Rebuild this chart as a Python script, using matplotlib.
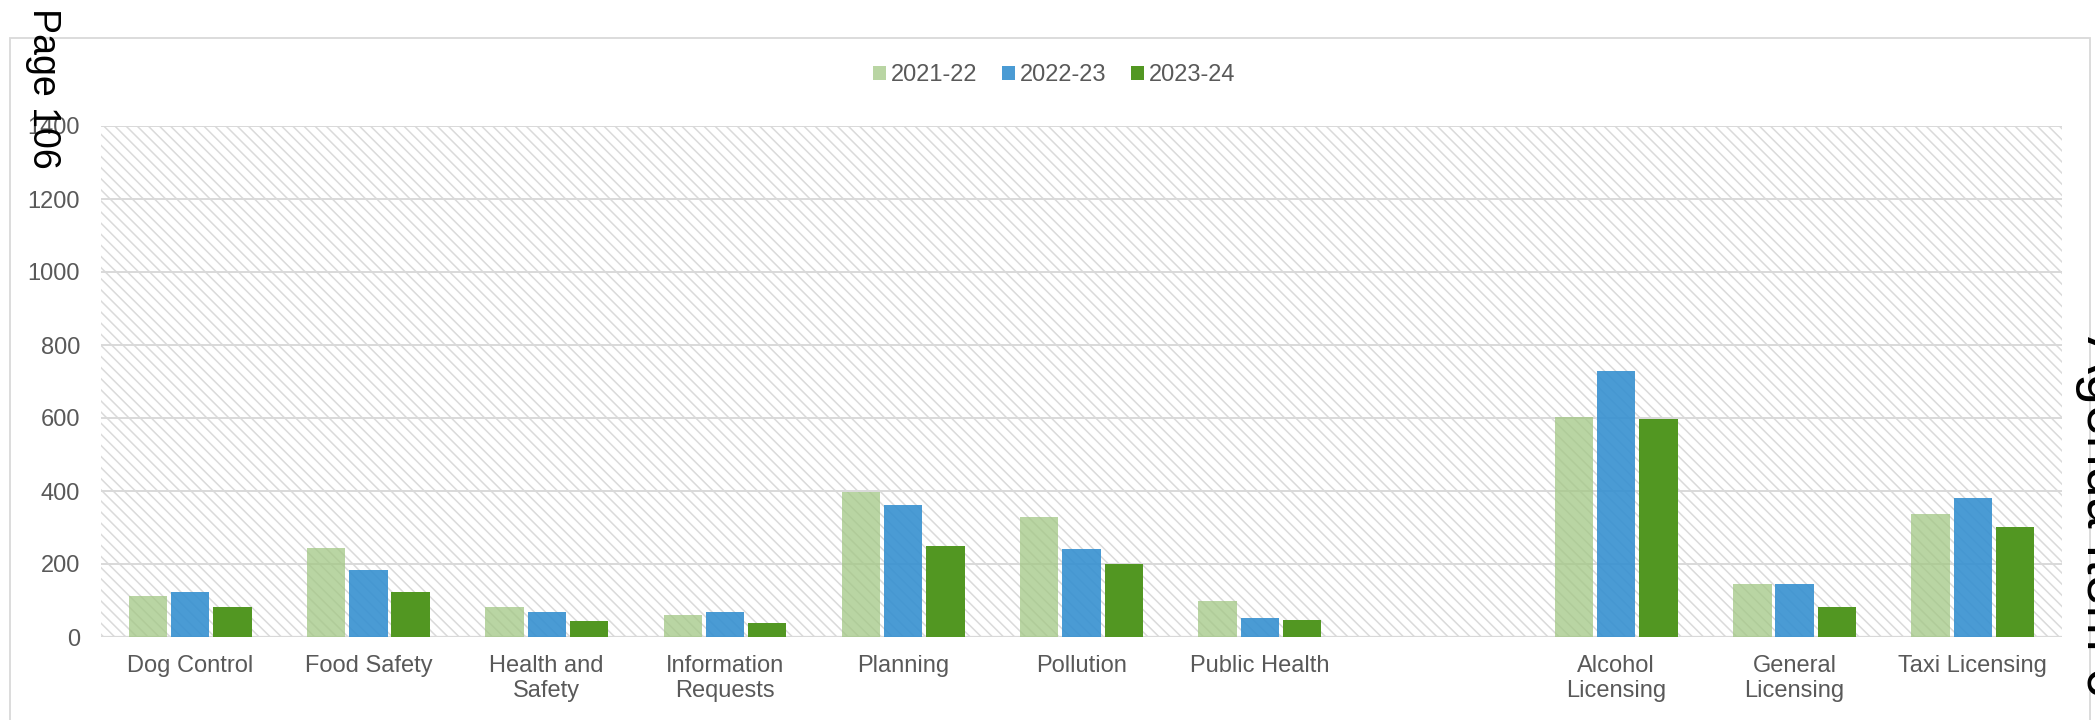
import numpy as np
import matplotlib
matplotlib.use("Agg")
import matplotlib.pyplot as plt
from matplotlib.patches import Rectangle

plt.rcParams['font.family'] = ['Liberation Sans', 'DejaVu Sans']
plt.rcParams['hatch.linewidth'] = 1.1

# ---- data ----
categories = ["Dog Control", "Food Safety", "Health and\nSafety", "Information\nRequests",
              "Planning", "Pollution", "Public Health", "",
              "Alcohol\nLicensing", "General\nLicensing", "Taxi Licensing"]
series_names = ["2021-22", "2022-23", "2023-24"]
v2021_22 = [112, 245, 81, 59, 398, 328, 99, np.nan, 604, 145, 338]
v2022_23 = [124, 183, 68, 68, 362, 242, 53, np.nan, 730, 146, 381]
v2023_24 = [81, 123, 44, 39, 248, 201, 46, np.nan, 597, 82, 302]
y_ticks = [0, 200, 400, 600, 800, 1000, 1200, 1400]

W, H = 2095, 720
fig = plt.figure(figsize=(W / 100, H / 100), dpi=100)
fig.patch.set_facecolor('white')

# outer chart frame
fig.add_artist(Rectangle((10 / W, -0.1), 2080 / W, 1.1 - 38 / H, transform=fig.transFigure,
                         facecolor='none', edgecolor='#d9d9d9', lw=1.3))

ax = fig.add_axes([101 / W, 1 - 637 / H, (2062 - 101) / W, (637 - 126) / H])
ax.set_facecolor('white')
ax.add_patch(Rectangle((0, 0), 1, 1, transform=ax.transAxes, facecolor='white',
                       edgecolor='#dadada', hatch='\\\\\\', lw=0, zorder=0))

x = np.arange(len(categories))
bw = 0.215
step = 0.237
colors = ['#a2c784', '#3690d0', '#529722']
alphas = [0.75, 0.9, 1.0]
handles = []
for i, (vals, c, a, nm) in enumerate(zip([v2021_22, v2022_23, v2023_24], colors, alphas, series_names)):
    b = ax.bar(x + (i - 1) * step, vals, width=bw, color=c, alpha=a, lw=0, zorder=3, label=nm)
    handles.append(b)

ax.set_xlim(-0.5, len(categories) - 0.5)
ax.set_ylim(0, 1400)
ax.set_yticks(y_ticks)
ax.set_yticklabels([str(t) for t in y_ticks])
ax.set_xticks(x)
ax.set_xticklabels(categories)
ax.yaxis.grid(True, color='#d9d9d9', lw=1.4, zorder=1)
ax.set_axisbelow(True)
for s in ax.spines.values():
    s.set_visible(False)
ax.axhline(0, color='#d9d9d9', lw=1.6, zorder=2)
ax.tick_params(axis='both', length=0, labelsize=17, labelcolor='#595959')
ax.tick_params(axis='y', pad=15)
ax.tick_params(axis='x', pad=13)

fig.legend(handles=handles, labels=series_names, loc='center',
           bbox_to_anchor=(1054 / W, 1 - 75 / H), ncol=3, frameon=False,
           fontsize=17, handlelength=0.55, handleheight=0.55, handletextpad=0.2,
           columnspacing=1.05, labelcolor='#595959')

# page annotations
fig.text(33 / W, 1 - 8 / H, "Page 106", rotation=-90, rotation_mode='anchor',
         ha='left', va='baseline', fontsize=27, color='black')
fig.text(2087 / W, 1 - 336 / H, "Agenda Item 6", rotation=-90, rotation_mode='anchor',
         ha='left', va='baseline', fontsize=40, color='black')

fig.savefig("out.png", dpi=100, facecolor='white')
